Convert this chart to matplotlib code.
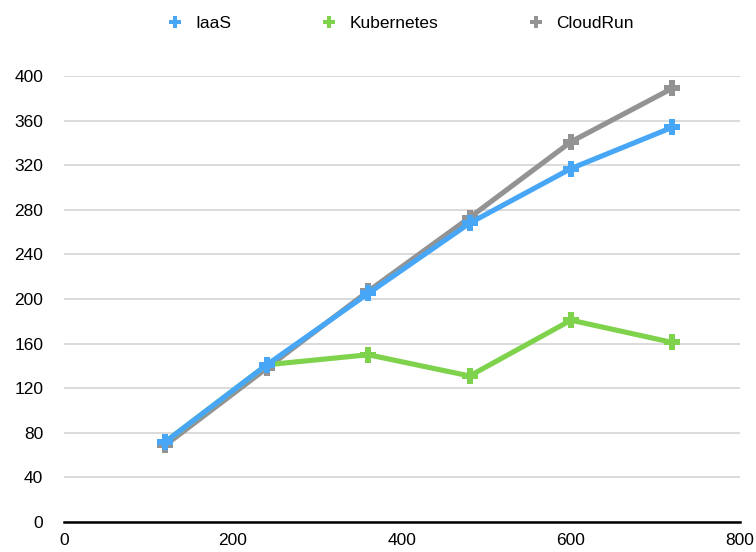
import matplotlib.pyplot as plt
from matplotlib.lines import Line2D

plt.rcParams['font.family'] = ['Liberation Sans', 'DejaVu Sans']

# requests per run, measured at each load step
load = [120, 240, 360, 480, 600, 720]
iaas = [72, 141, 205, 268, 317, 354]
kubernetes = [72, 141, 150, 131, 181, 161]
cloudrun = [69, 138, 207, 273, 341, 389]

series = [
    ('CloudRun', cloudrun, '#939393'),
    ('Kubernetes', kubernetes, '#7fd24c'),
    ('IaaS', iaas, '#47a7f6'),
]

fig = plt.figure(figsize=(7.56, 5.52), dpi=100)
ax = fig.add_axes([64 / 756, 30 / 552, 676 / 756, 446 / 552])

for name, values, color in series:
    ax.plot(load, values, color=color, lw=3.7, marker='P', markersize=12,
            markeredgewidth=0, solid_capstyle='round', clip_on=False, zorder=3)

ax.set_xlim(0, 800)
ax.set_ylim(0, 400)
ax.set_xticks(range(0, 801, 200))
ax.set_yticks(range(0, 401, 40))
ax.yaxis.grid(True, color='#d4d4d4', lw=1.2)
ax.set_axisbelow(True)

for side in ['top', 'right', 'left']:
    ax.spines[side].set_visible(False)
ax.spines['bottom'].set_linewidth(1.8)
ax.spines['bottom'].set_zorder(4)
ax.tick_params(axis='both', length=0, labelsize=12.5)
ax.tick_params(axis='y', pad=15)
ax.tick_params(axis='x', pad=8)

handles = [Line2D([], [], ls='none', marker='P', markersize=8, markeredgewidth=0,
                  color=color) for _, _, color in reversed(series)]
labels = [name for name, _, _ in reversed(series)]
fig.legend(handles, labels, loc='upper center', bbox_to_anchor=(0.529, 1.0),
           ncol=3, frameon=False, fontsize=12.5, handlelength=1.0,
           handletextpad=0.7, columnspacing=5.1)

fig.savefig('out.png', dpi=100)
